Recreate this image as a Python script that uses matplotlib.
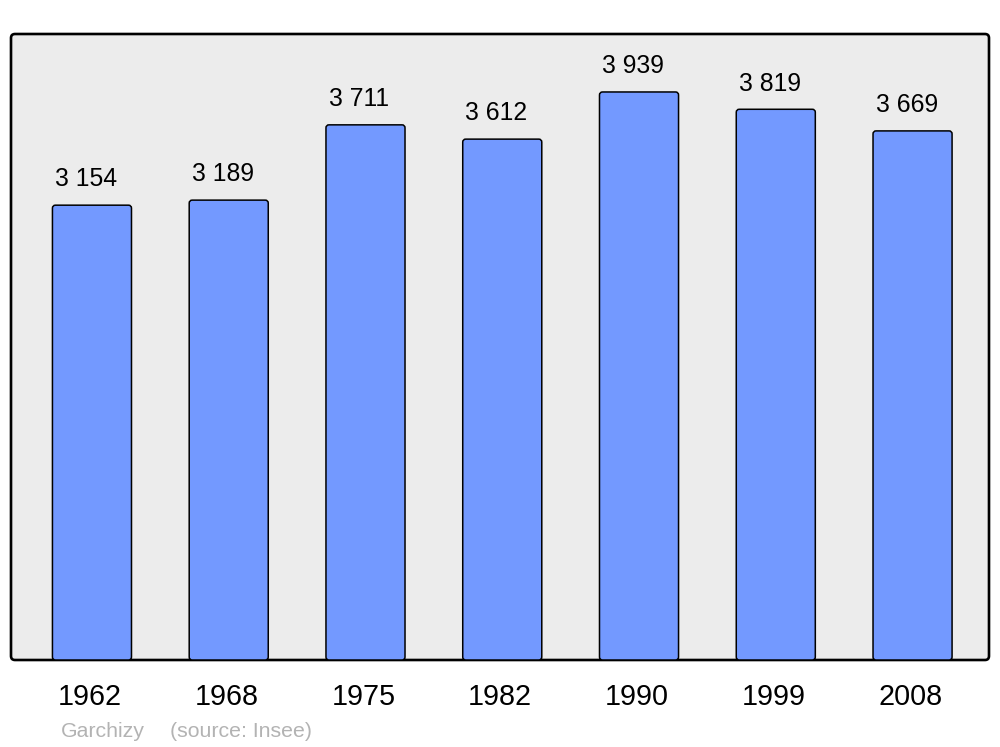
import matplotlib
matplotlib.use("Agg")
import matplotlib.pyplot as plt
from matplotlib.patches import FancyBboxPatch
from matplotlib.transforms import blended_transform_factory

plt.rcParams['font.family'] = ['Liberation Sans', 'DejaVu Sans']

years = ["1962", "1968", "1975", "1982", "1990", "1999", "2008"]
population = [3154, 3189, 3711, 3612, 3939, 3819, 3669]
value_labels = ["3 154", "3 189", "3 711", "3 612", "3 939", "3 819", "3 669"]
town = "Garchizy"
source = "(source: Insee)"

W, H = 1000, 747
fig = plt.figure(figsize=(W / 100, H / 100), dpi=100)
fig.patch.set_facecolor("white")

# plot frame in pixels: x 11..989, y 34..660
ax = fig.add_axes([11 / W, 1 - 660 / H, 978 / W, 626 / H])
ax.set_facecolor("none")
for s in ax.spines.values():
    s.set_visible(False)
ax.set_xticks([])
ax.set_yticks([])

x = list(range(len(years)))
ax.set_xlim(-0.592, 6.559)
ax.set_ylim(0, 4341)

# rounded background frame (pixel coords), behind the axes
frame = FancyBboxPatch((11, H - 660), 978, 626, boxstyle="round,pad=0,rounding_size=4",
                       transform=None, facecolor="#ececec", edgecolor="black",
                       linewidth=1.9, zorder=-1)
fig.patches.append(frame)

bars = ax.bar(x, population, width=0.578, color="#7399ff")
# swap rectangles for slightly rounded boxes
xpx = 978 / (6.559 + 0.592)
ypx = 626 / 4341
for b in bars:
    b.set_visible(False)
    fb = FancyBboxPatch((b.get_x(), b.get_y()), b.get_width(), b.get_height(),
                        boxstyle="round,pad=0,rounding_size=%f" % (3 / xpx),
                        mutation_aspect=xpx / ypx,
                        facecolor="#7399ff", edgecolor="black", linewidth=1.1, zorder=2)
    ax.add_patch(fb)

for xi, v, lab in zip(x, population, value_labels):
    ax.annotate(lab, (xi, v), xytext=(-4.3, 13.5), textcoords="offset points",
                ha="center", va="baseline", fontsize=17.8, color="black")

trans = blended_transform_factory(ax.transData, fig.transFigure)
for xi, yr in zip(x, years):
    ax.text(xi - 0.015, 1 - 705 / H, yr, transform=trans, ha="center", va="baseline",
            fontsize=20.7, color="black")

fig.text(61 / W, 1 - 737 / H, town, ha="left", va="baseline", fontsize=15.3, color="#b3b3b3")
fig.text(170 / W, 1 - 737 / H, source, ha="left", va="baseline", fontsize=15.3, color="#b3b3b3")

fig.savefig("out.png", dpi=100)
